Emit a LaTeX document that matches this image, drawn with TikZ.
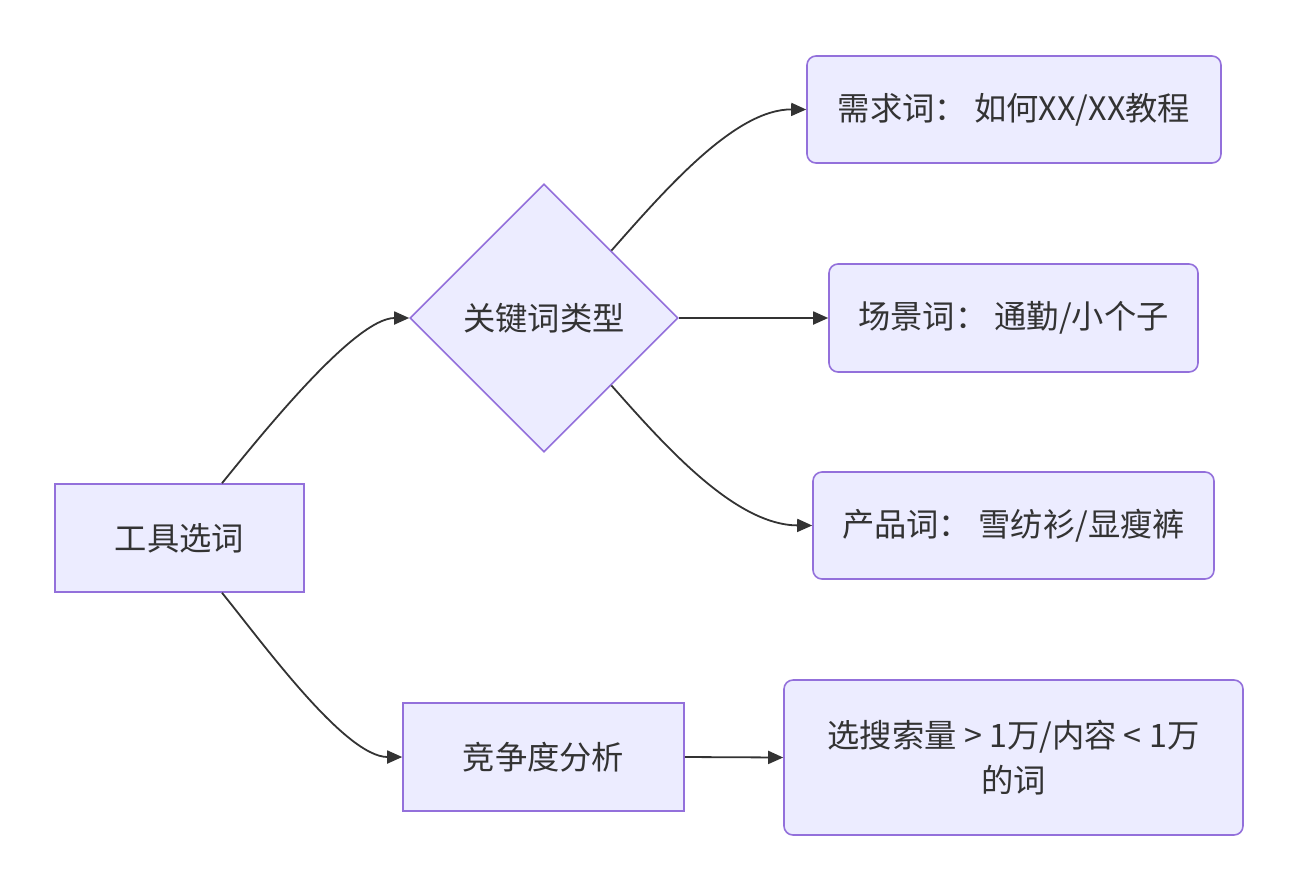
\documentclass[tikz,border=0pt]{standalone}
\usepackage{fontspec}
\setmainfont{Noto Sans CJK SC}
\usetikzlibrary{shapes.geometric,arrows.meta}
\definecolor{nfill}{HTML}{ECECFF}
\definecolor{nstroke}{HTML}{9370DB}
\definecolor{txt}{HTML}{333333}
\tikzset{
  base/.style={fill=nfill,draw=nstroke,line width=1.6pt,text=txt,font=\fontsize{32.3}{45}\selectfont,inner sep=0pt,align=center},
  sharp/.style={base,rectangle},
  round/.style={base,rectangle,rounded corners=9pt},
  dia/.style={base,diamond,minimum width=268pt,minimum height=268pt},
  link/.style={draw=txt,line width=1.8pt,-{Triangle[length=15pt,width=13pt]}}
}
\begin{document}
\begin{tikzpicture}[x=1pt,y=-1pt]
\useasboundingbox (0,0) rectangle (1300,892);
\node[sharp,minimum width=249pt,minimum height=108pt] (tool) at (179.5,538) {工具选词};
\node[dia] (kw) at (544,318) {关键词类型};
\node[round,minimum width=414pt,minimum height=107pt] (need) at (1014,109.5) {需求词： 如何XX/XX教程};
\node[round,minimum width=369pt,minimum height=108pt] (scene) at (1013.5,318) {场景词： 通勤/小个子};
\node[round,minimum width=401pt,minimum height=107pt] (prod) at (1013.5,525.5) {产品词： 雪纺衫/显瘦裤};
\node[sharp,minimum width=281pt,minimum height=108pt] (comp) at (543.5,757) {竞争度分析};
\node[round,minimum width=459pt,minimum height=155pt] (sel) at (1013.5,757.5) {选搜索量 > 1万/内容 < 1万\\的词};
\draw[link] ([xshift=42.5pt]tool.north) .. controls (262,434) and (355,318) .. (kw.west);
\draw[link] ([xshift=42.5pt]tool.south) .. controls (262,642) and (345,757) .. (comp.west);
\draw[link] (kw.north east) .. controls (665,190) and (735,109) .. (need.west);
\draw[link] (kw.east) .. controls (740,318) and (770,318) .. (scene.west);
\draw[link] (kw.south east) .. controls (665,446) and (735,525) .. (prod.west);
\draw[link] (comp.east) -- (sel.west);
\end{tikzpicture}
\end{document}
